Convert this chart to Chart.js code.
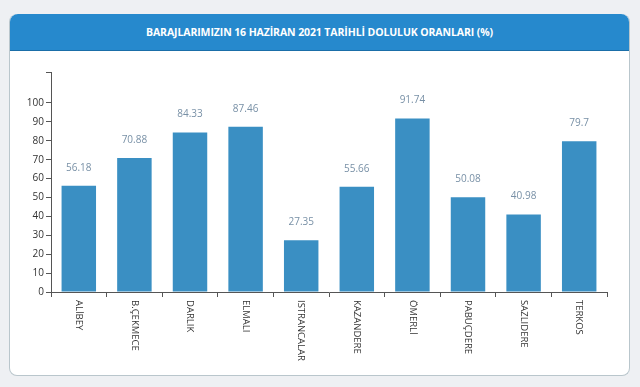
<!DOCTYPE html>
<html>
<head>
<meta charset="utf-8">
<script src="https://cdn.jsdelivr.net/npm/chart.js@4"></script>
<style>
  html, body { margin: 0; padding: 0; width: 640px; height: 387px; background: #eef0f3; overflow: hidden; }
  .card {
    position: absolute; left: 9px; top: 14px; width: 621px; height: 362px;
    background: #fff; border-radius: 8px; border: 1px solid #b9c6cc;
    border-top: none; box-sizing: border-box;
  }
  .head {
    height: 36px; background: #2689cd; border-radius: 8px 8px 0 0;
    color: #fff; font: bold 10.5px "Open Sans", sans-serif; letter-spacing: -0.1px;
    display: flex; align-items: center; justify-content: center;
    border-bottom: 1px solid #1a6ea8;
  }
  #wrap { position: absolute; left: 0; top: 0; width: 640px; height: 387px; }
</style>
</head>
<body>
<div class="card"><div class="head">BARAJLARIMIZIN 16 HAZİRAN 2021 TARİHLİ DOLULUK ORANLARI (%)</div></div>
<div id="wrap"><canvas id="c" width="640" height="387"></canvas></div>
<script>
  const dams = ["ALİBEY", "B.ÇEKMECE", "DARLIK", "ELMALI", "ISTRANCALAR", "KAZANDERE", "ÖMERLİ", "PABUÇDERE", "SAZLIDERE", "TERKOS"];
  const levels = [56.18, 70.88, 84.33, 87.46, 27.35, 55.66, 91.74, 50.08, 40.98, 79.7];
  const yTicks = [0, 10, 20, 30, 40, 50, 60, 70, 80, 90, 100];
  const yMax = 116.4;

  const barColor = "#3a8fc3";
  const axisColor = "#555";

  // value labels above the bars
  const valueLabels = {
    id: "valueLabels",
    afterDatasetsDraw: function (chart) {
      const ctx = chart.ctx;
      const meta = chart.getDatasetMeta(0);
      ctx.save();
      ctx.font = "10px 'Open Sans', sans-serif";
      ctx.fillStyle = "#7890a6";
      ctx.textAlign = "center";
      ctx.textBaseline = "middle";
      meta.data.forEach(function (bar, i) {
        ctx.fillText(String(levels[i]), bar.x, bar.y - 18);
      });
      ctx.restore();
    }
  };

  // category names, rotated clockwise (read top to bottom)
  const xNames = {
    id: "xNames",
    afterDraw: function (chart) {
      const ctx = chart.ctx;
      const x = chart.scales.x;
      ctx.save();
      ctx.font = "9.5px 'Open Sans', sans-serif";
      ctx.fillStyle = "#333";
      ctx.textAlign = "left";
      ctx.textBaseline = "middle";
      dams.forEach(function (name, i) {
        const px = x.getPixelForTick(i);
        ctx.save();
        ctx.translate(px, x.top + 8);
        ctx.rotate(Math.PI / 2);
        ctx.fillText(name, 0, 0);
        ctx.restore();
      });
      ctx.restore();
    }
  };

  new Chart(document.getElementById("c"), {
    type: "bar",
    data: {
      labels: dams,
      datasets: [{ data: levels, backgroundColor: barColor, barPercentage: 0.62, categoryPercentage: 1 }]
    },
    options: {
      responsive: false,
      animation: false,
      layout: { padding: { left: 0, right: 33, top: 72, bottom: 0 } },
      plugins: { legend: { display: false }, tooltip: { enabled: false } },
      scales: {
        x: {
          afterFit: function (s) { s.height = 95; },
          grid: { offset: true, drawOnChartArea: false, tickLength: 5, color: axisColor },
          border: { color: axisColor },
          ticks: { display: false }
        },
        y: {
          min: 0,
          max: yMax,
          afterFit: function (s) { s.width = 51; },
          afterBuildTicks: function (s) {
            s.ticks = yTicks.concat([yMax]).map(function (v) { return { value: v }; });
          },
          grid: { drawOnChartArea: false, tickLength: 5, color: axisColor },
          border: { color: axisColor },
          ticks: {
            padding: 2,
            color: "#333",
            font: { size: 10, family: "'Open Sans', sans-serif" },
            callback: function (v) { return v > 100 ? "" : v; }
          }
        }
      }
    },
    plugins: [valueLabels, xNames]
  });
</script>
</body>
</html>
